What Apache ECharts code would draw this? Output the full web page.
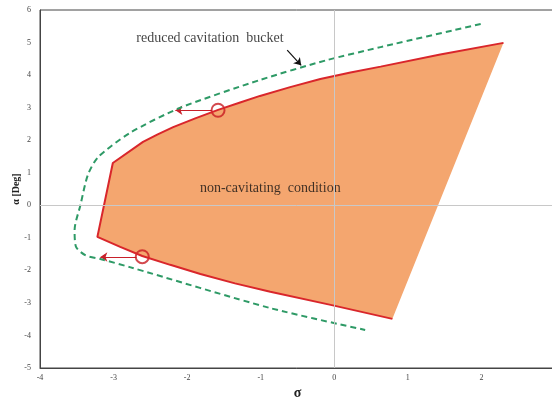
<!DOCTYPE html>
<html>
<head>
<meta charset="utf-8">
<script src="https://cdn.jsdelivr.net/npm/echarts@6/dist/echarts.min.js"></script>
<style>
html,body{margin:0;padding:0;background:#fff;}
#c{width:552px;height:402px;}
</style>
</head>
<body>
<div id="c"></div>
<script>
// Non-cavitating region boundary (sigma, alpha)
const upperBoundary = [[2.30,4.99],[1.44,4.63],[0.63,4.26],[0.22,4.08],[-0.19,3.88],[-0.60,3.63],[-1.01,3.36],[-1.28,3.16],[-1.58,2.93],[-1.89,2.67],[-2.19,2.40],[-2.40,2.18],[-2.60,1.95],[-3.01,1.30],[-3.22,-0.97]];
const lowerBoundary = [[-3.22,-0.97],[-2.91,-1.28],[-2.61,-1.56],[-2.23,-1.83],[-1.82,-2.11],[-1.35,-2.40],[-0.87,-2.66],[-0.05,-3.06],[0.79,-3.49]];
// Reduced cavitation bucket (dashed green)
const bucket = [[1.99,5.57],[0.63,4.86],[-0.10,4.46],[-1.01,3.85],[-2.10,2.99],[-2.78,2.22],[-3.21,1.48],[-3.35,0.93],[-3.45,0.01],[-3.53,-0.76],[-3.51,-1.28],[-3.38,-1.54],[-3.18,-1.65],[-2.78,-1.90],[-0.87,-3.16],[0.42,-3.83]];
// Highlight circles and arrows
const circles = [[-1.58,2.92],[-2.61,-1.58]];
const redArrows = [[[-1.66,2.92],[-2.16,2.92]],[[-2.69,-1.59],[-3.18,-1.59]]];
const blackArrow = [[-0.64,4.77],[-0.45,4.30]];
const annotations = [
  {text:'reduced cavitation  bucket', at:[-1.69,5.14]},
  {text:'non-cavitating  condition', at:[-0.87,0.53]}
];
const xMin=-4, xMax=3, yMin=-5, yMax=6;

const outline = upperBoundary.concat(lowerBoundary.slice(1));
const serif = '"Liberation Serif","DejaVu Serif",serif';

const chart = echarts.init(document.getElementById('c'));
chart.setOption({
  animation:false,
  backgroundColor:'#fff',
  grid:{left:40,right:-3,top:10,bottom:34,show:true,borderColor:'#444',borderWidth:1,
    containLabel:false,outerBoundsMode:'none'},
  xAxis:{type:'value',min:xMin,max:xMax,interval:1,
    name:'σ',nameLocation:'middle',nameGap:18,nameMoveOverlap:false,
    nameTextStyle:{fontFamily:serif,fontWeight:'bold',fontSize:14,color:'#222'},
    axisLine:{show:true,onZero:false,lineStyle:{color:'#444',width:1}},
    axisTick:{show:false},splitLine:{show:false},
    axisLabel:{fontFamily:serif,fontSize:8,color:'#444',margin:6}},
  yAxis:{type:'value',min:yMin,max:yMax,interval:1,
    name:'α [Deg]',nameLocation:'middle',nameGap:19,nameRotate:90,nameMoveOverlap:false,
    nameTextStyle:{fontFamily:serif,fontWeight:'bold',fontSize:10,color:'#222'},
    axisLine:{show:true,onZero:false,lineStyle:{color:'#444',width:1}},
    axisTick:{show:false},splitLine:{show:false},
    axisLabel:{fontFamily:serif,fontSize:8,color:'#444',margin:9}},
  series:[
    {type:'line',data:[],silent:true,
      markLine:{silent:true,symbol:'none',label:{show:false},
        lineStyle:{color:'#c8c8c8',width:1,type:'solid'},
        data:[{xAxis:0},{yAxis:0}]}},
    {type:'custom',data:outline,encode:{x:0,y:1},silent:true,
      renderItem:function(params,api){
        if(params.dataIndex!==0) return null;
        const pts = outline.map(p=>api.coord(p));
        return {type:'polygon',shape:{points:pts},style:{fill:'#F4A66F'}};
      }},
    {type:'line',data:outline,symbol:'none',smooth:false,
      lineStyle:{color:'#D9262B',width:2}},
    {type:'line',data:bucket,symbol:'none',smooth:0.25,
      lineStyle:{color:'#2E9A66',width:2,type:[6,4]}},
    {type:'lines',coordinateSystem:'cartesian2d',symbol:['none','arrow'],symbolSize:7,
      lineStyle:{color:'#C8202A',width:1.2,opacity:1},
      data:redArrows.map(c=>({coords:c}))},
    {type:'lines',coordinateSystem:'cartesian2d',symbol:['none','arrow'],symbolSize:7,
      lineStyle:{color:'#111',width:1.2,opacity:1},
      data:[{coords:blackArrow}]},
    {type:'scatter',data:circles,symbol:'circle',symbolSize:13,
      itemStyle:{color:'rgba(0,0,0,0)',borderColor:'#C81C22',borderWidth:2}},
    {type:'scatter',symbolSize:0,silent:true,
      data:annotations.map(a=>({value:a.at,label:{show:true,formatter:a.text}})),
      label:{show:true,position:'inside',fontFamily:serif,fontSize:14,color:'#111'}}
  ]
});
</script>
</body>
</html>
